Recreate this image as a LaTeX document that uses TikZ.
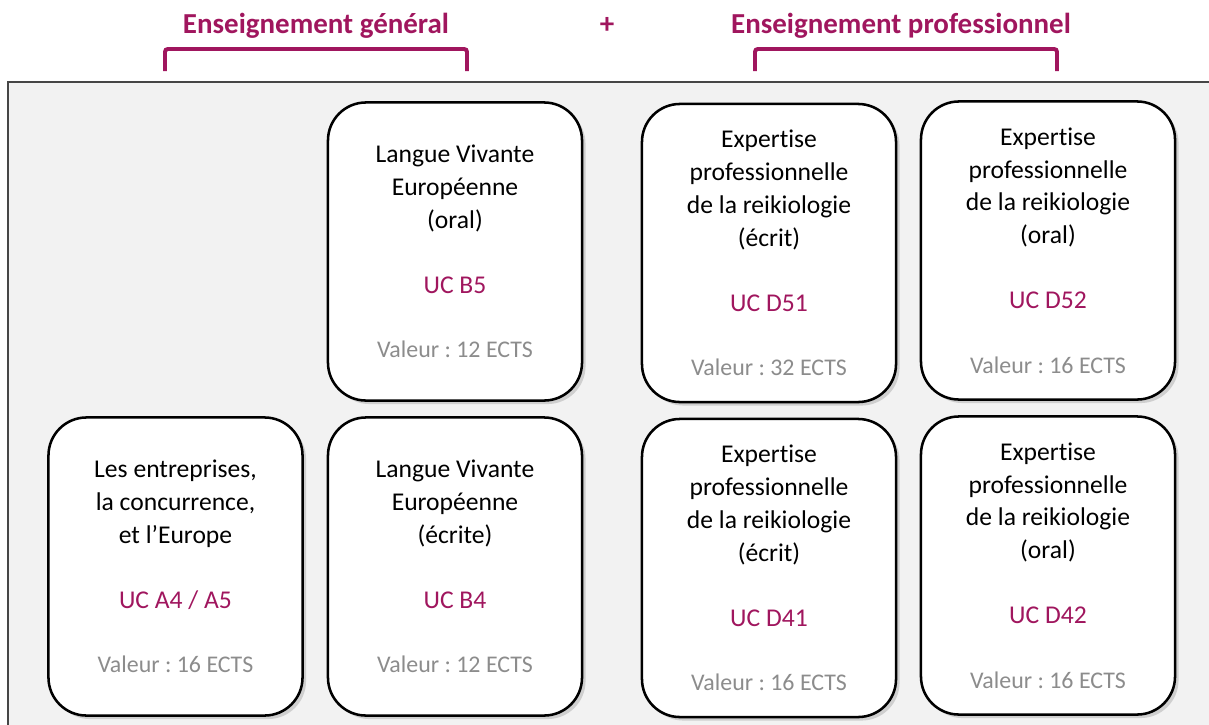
\documentclass[tikz,border=0pt]{standalone}
\usepackage{fontspec}
\setmainfont{Carlito}[Ligatures={NoCommon,NoContextual}, Contextuals=NoAlternate]
\usetikzlibrary{shadows}
\frenchspacing

\definecolor{ucpurple}{RGB}{160,22,94}
\definecolor{valgray}{RGB}{140,140,140}
\definecolor{panelgray}{RGB}{242,242,242}
\definecolor{paneledge}{RGB}{70,70,70}

\tikzset{
  ucbox/.style={draw=black, line width=1.8pt, fill=white, rounded corners=0.95cm,
    minimum width=6.35cm, minimum height=7.45cm, align=center, inner sep=0pt,
    font=\fontsize{18.2}{23.4}\selectfont,
    drop shadow={opacity=0.3, shadow xshift=2.5pt, shadow yshift=-2.5pt}},
  header/.style={font=\fontsize{20.6}{24}\selectfont\bfseries, text=ucpurple, anchor=base},
  bracket/.style={draw=ucpurple, line width=2.8pt, rounded corners=2pt}
}
\newcommand{\ucbody}[3]{#1\\[22.6pt]{\color{ucpurple}#2}\\[22.6pt]{\color{valgray}\fontsize{17}{23.4}\selectfont Valeur : #3 ECTS}}

\begin{document}
\begin{tikzpicture}[x=0.025cm, y=-0.025cm]
  \useasboundingbox (0,0) rectangle (1209,724);
  \clip (0,0) rectangle (1209,724);
  \draw[paneledge, fill=panelgray, line width=1pt] (8,82) rectangle (1240,760);

  \node[header] (gen) at (316,33) {Enseignement général};
  \node[header] (plus) at (607,33) {+};
  \node[header] (pro) at (901,33) {Enseignement professionnel};
  \foreach \l/\r in {165/467, 755/1057}
    \draw[bracket] (\l,71) |- (\r,49) -- (\r,71);

  \node[ucbox] (a45) at (175.5,566.5) {\ucbody{Les entreprises,\\la concurrence,\\et l’Europe}{UC A4 / A5}{16}};
  \node[ucbox] (b5) at (455,251.5) {\ucbody{Langue Vivante\\Européenne\\(oral)}{UC B5}{12}};
  \node[ucbox] (b4) at (455,566.5) {\ucbody{Langue Vivante\\Européenne\\(écrite)}{UC B4}{12}};
  \node[ucbox] (d51) at (769,253) {\ucbody{Expertise\\professionnelle\\de la reikiologie\\(écrit)}{UC D51}{32}};
  \node[ucbox] (d52) at (1048,250.5) {\ucbody{Expertise\\professionnelle\\de la reikiologie\\(oral)}{UC D52}{16}};
  \node[ucbox] (d41) at (769,568) {\ucbody{Expertise\\professionnelle\\de la reikiologie\\(écrit)}{UC D41}{16}};
  \node[ucbox] (d42) at (1048,565.5) {\ucbody{Expertise\\professionnelle\\de la reikiologie\\(oral)}{UC D42}{16}};
\end{tikzpicture}
\end{document}
